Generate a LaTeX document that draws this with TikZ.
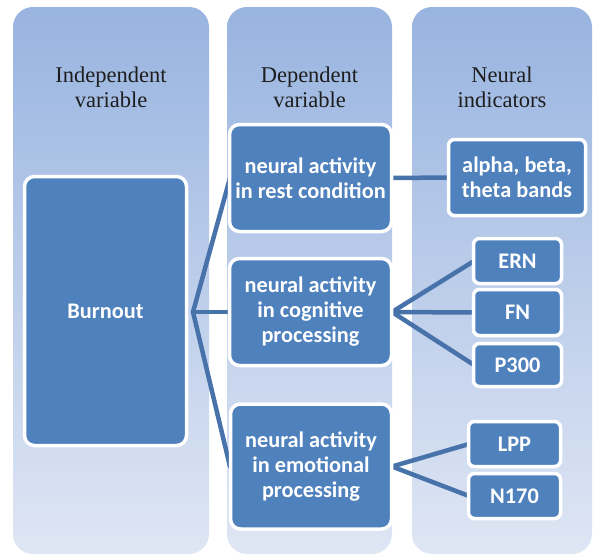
\documentclass[tikz,border=0pt]{standalone}
\usepackage{fontspec}
\setmainfont{Liberation Serif}
\newfontfamily\hdrfont{Liberation Serif}
\newfontfamily\boxfont{Carlito}
\definecolor{boxblue}{RGB}{79,129,189}
\definecolor{linkblue}{RGB}{72,114,170}
\definecolor{coltop}{RGB}{152,180,224}
\definecolor{colbot}{RGB}{223,230,244}
\definecolor{hdrtext}{RGB}{30,30,30}
\tikzset{
  colpanel/.style={rectangle, rounded corners=20pt, top color=coltop, bottom color=colbot, draw=none, inner sep=0pt, minimum height=547pt},
  hdr/.style={align=center, text=hdrtext, font=\hdrfont\fontsize{22.5}{25}\selectfont, inner sep=0pt},
  bbox/.style={rectangle, rounded corners=10pt, fill=boxblue, draw=white, line width=3.5pt, text=white, align=center, inner sep=0pt, font=\boxfont\bfseries\fontsize{22.3}{25}\selectfont},
  sbox/.style={bbox, rounded corners=6pt},
  conn/.style={draw=linkblue, line width=4.5pt, line cap=round}
}
\begin{document}
\begin{tikzpicture}[x=1pt,y=-1pt]
\useasboundingbox (0,0) rectangle (596,554);
% column panels
\node[colpanel, minimum width=196pt] (c1) at (111,280.5) {};
\node[colpanel, minimum width=165pt] (c2) at (309.5,280.5) {};
\node[colpanel, minimum width=180pt] (c3) at (502,280.5) {};
% headers
\node[hdr] (h1) at (111,87) {Independent\\variable};
\node[hdr] (h2) at (309.5,87) {Dependent\\variable};
\node[hdr] (h3) at (502,87) {Neural\\indicators};
% connectors
\coordinate (j1) at (193,312);
\draw[conn] (j1) -- (230,178);
\draw[conn] (j1) -- (230,312);
\draw[conn] (j1) -- (230,466.5);
\draw[conn] (392,178) -- (449,177.5);
\draw[conn] (392,312) -- (474,261);
\draw[conn] (392,312) -- (474,312.5);
\draw[conn] (392,312) -- (474,365);
\draw[conn] (392,466.5) -- (469,444);
\draw[conn] (392,466.5) -- (469,496);
% boxes
\node[bbox, minimum width=162pt, minimum height=269pt] (burn) at (105.5,311) {Burnout};
\node[bbox, minimum width=162pt, minimum height=107pt] (rest) at (310.5,178) {neural activity\\in rest condition};
\node[bbox, minimum width=162pt, minimum height=107pt] (cog) at (310.5,312) {neural activity\\in cognitive\\processing};
\node[bbox, minimum width=161pt, minimum height=125pt] (emo) at (311,466.5) {neural activity\\in emotional\\processing};
\node[sbox, minimum width=137pt, minimum height=76pt] (alpha) at (517,177.5) {alpha, beta,\\theta bands};
\node[sbox, minimum width=88pt, minimum height=45pt] (ern) at (517.5,261) {ERN};
\node[sbox, minimum width=88pt, minimum height=46pt] (fn) at (517.5,312.5) {FN};
\node[sbox, minimum width=88pt, minimum height=43pt] (p300) at (517.5,365) {P300};
\node[sbox, minimum width=92pt, minimum height=45pt] (lpp) at (514.5,444) {LPP};
\node[sbox, minimum width=92pt, minimum height=45pt] (n170) at (514.5,496) {N170};
\end{tikzpicture}
\end{document}
